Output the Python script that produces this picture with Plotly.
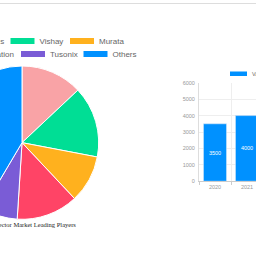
import plotly.graph_objects as go

# ---------------- data ----------------
players = ["API Technologies", "Vishay", "Murata", "AVX Corporation", "Tusonix", "Others"]
shares = [13, 15, 10, 13, 7.5, 41.5]
player_colors = ["#F9A3A6", "#00DE95", "#FFB11E", "#FF4466", "#7A5CD6", "#0091FF"]

years = ["2020", "2021"]
market_value = [3500, 4000]
bar_color = "#0091FF"

pie_title = "Filter Connector Market Leading Players"
bar_legend_name = "Value"

# ---------------- geometry (virtual canvas, shifted left in page) ----------------
SHIFT = 200          # px the canvas is shifted left in the page
W, H = 480, 256

def fx(px):  # page x -> paper fraction
    return (px + SHIFT) / W

def fy(py):  # page y (from top) -> paper fraction
    return 1 - py / H

fig = go.Figure()

# pie
R = 78.5
fig.add_trace(go.Pie(
    labels=players, values=shares, sort=False, direction="clockwise", rotation=0,
    marker=dict(colors=player_colors, line=dict(color="white", width=1)),
    textinfo="none", showlegend=False,
    domain=dict(x=[fx(22 - R), fx(22 + R)], y=[fy(143 + R), fy(143 - R)]),
))

# one legend per pie entry so the entries sit like the reference's legend
# (anchor side, page x of text start/end, page y of row)
leg_pos = [("right", 4.5, 41), ("left", 39.5, 41), ("left", 99, 41),
           ("right", 14.5, 54.3), ("left", 50, 54.3), ("left", 112.5, 54.3)]
legend_layout = {}
for i, (name, col) in enumerate(zip(players, player_colors)):
    key = "legend" if i == 0 else "legend%d" % (i + 1)
    fig.add_trace(go.Scatter(
        x=[None], y=[None], mode="lines", name=name,
        line=dict(color=col, width=6, dash="0px,6px,24px,30px"),
        legend=key, hoverinfo="skip",
    ))
    side, tx, ty = leg_pos[i]
    lx = tx + 5 if side == "right" else tx - 40
    legend_layout[key] = dict(x=fx(lx), y=fy(ty - 2), xanchor=side, yanchor="middle",
                              orientation="h", bgcolor="rgba(0,0,0,0)", itemwidth=30,
                              font=dict(size=8, color="#666", family="Liberation Sans"))

# bar chart
fig.add_trace(go.Bar(
    x=years, y=market_value, marker=dict(color=bar_color), showlegend=False,
    texttemplate="%{y}", textposition="inside", insidetextanchor="middle",
    textfont=dict(color="white", size=5.5, family="Liberation Sans"),
))
fig.add_trace(go.Scatter(
    x=[None], y=[None], mode="lines", name=bar_legend_name,
    line=dict(color=bar_color, width=4.5, dash="0px,13px,17px,30px"),
    legend="legend7", hoverinfo="skip",
))
legend_layout["legend7"] = dict(x=fx(252 - 40), y=fy(74 - 1.5), xanchor="left", yanchor="middle",
                                orientation="h", bgcolor="rgba(0,0,0,0)", itemwidth=30,
                                font=dict(size=5.5, color="#666", family="Liberation Sans"))

fig.update_layout(
    width=W, height=H, autosize=False,
    margin=dict(l=0, r=0, t=0, b=0),
    paper_bgcolor="white", plot_bgcolor="white",
    bargap=0.28,
    xaxis=dict(domain=[fx(199), fx(263)], type="category", tickson="boundaries",
               ticks="outside", ticklen=3, tickcolor="#ccc",
               showline=True, linecolor="#ccc", showgrid=True, gridcolor="#eee",
               tickfont=dict(size=5.5, color="#999", family="Liberation Sans")),
    yaxis=dict(domain=[fy(182.5), fy(81.7)], range=[0, 6000], dtick=1000,
               showline=True, linecolor="#ddd", showgrid=True, gridcolor="#eee",
               zeroline=False, ticks="", ticklabelstandoff=2,
               tickfont=dict(size=5.5, color="#999", family="Liberation Sans")),
    annotations=[dict(text=pie_title, xref="paper", yref="paper", x=fx(78), y=fy(226.5),
                      xanchor="right", yanchor="middle", showarrow=False,
                      font=dict(size=6.5, color="#222", family="Liberation Serif"))],
    shapes=[dict(type="line", xref="paper", yref="paper", x0=0, x1=1,
                 y0=1 - 0.5 / H, y1=1 - 0.5 / H, line=dict(color="#ddd", width=1))],
    **legend_layout,
)

# show only a 256x256 window of the wider canvas, shifted left by SHIFT px
post = ("var gd=document.getElementById('{plot_id}');"
        "var h=document.documentElement;h.style.overflow='hidden';h.style.margin='0';"
        "document.body.style.margin='0';document.body.style.overflow='hidden';"
        "gd.style.width='256px';gd.style.height='256px';gd.style.overflow='hidden';"
        "var c=gd.querySelector('.plot-container');"
        "if(c){c.style.marginLeft='-%dpx';}" % SHIFT)

fig.write_html("out.html", post_script=post, config={"responsive": False})
